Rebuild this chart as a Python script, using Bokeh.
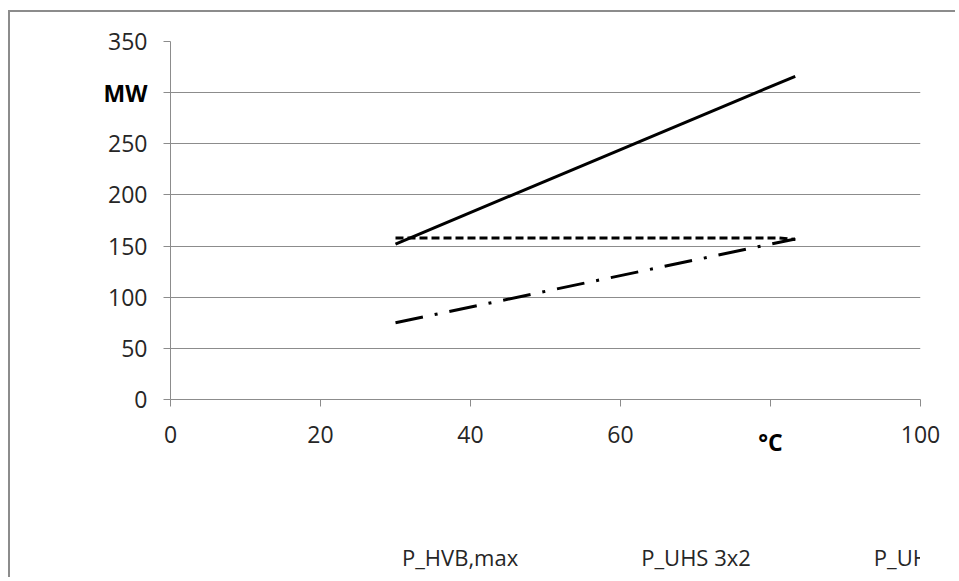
from bokeh.plotting import figure
from bokeh.layouts import column
from bokeh.models import Range1d, Legend, LegendItem, Label, FixedTicker
from bokeh.embed import file_html
from bokeh.resources import INLINE

# ---- data ----
temp_hvb = [30, 81, 83.3]
p_hvb = [158, 158, 156.5]

temp_uhs_3x2 = [30, 83.3]
p_uhs_3x2 = [152, 316]

temp_uhs_3x1 = [30, 83.3]
p_uhs_3x1 = [75, 157]

x_ticks = [0, 20, 40, 60, 80, 100]
y_ticks = [0, 50, 100, 150, 200, 250, 300, 350]
x_unit_tick = 80      # tick whose label is replaced by the unit
y_unit_tick = 300
x_unit_label = "°C"
y_unit_label = "MW"
series_names = ["P_HVB,max", "P_UHS 3x2", "P_UHS 3x1"]

FONT = "Open Sans"
GREY = "#8c8c8c"
TXT = "#262626"
DASHES = ["8 4", "solid", "28 12 3 12"]

p = figure(frame_width=750, frame_height=358, output_backend="svg", toolbar_location=None,
           x_range=Range1d(0, 100), y_range=Range1d(0, 350),
           min_border_left=160, min_border_right=35, min_border_top=29, min_border_bottom=70)

p.outline_line_color = None
p.xgrid.grid_line_color = None
p.ygrid.grid_line_color = GREY
p.ygrid.grid_line_width = 1

p.xaxis.ticker = FixedTicker(ticks=x_ticks)
p.yaxis.ticker = FixedTicker(ticks=y_ticks)
p.xaxis.major_label_overrides = {x_unit_tick: ""}
p.yaxis.major_label_overrides = {y_unit_tick: ""}
for ax in (p.xaxis, p.yaxis):
    ax.axis_line_color = GREY
    ax.major_tick_line_color = GREY
    ax.major_tick_out = 7
    ax.major_tick_in = 0
    ax.minor_tick_line_color = None
    ax.major_label_text_font = FONT
    ax.major_label_text_font_size = "23px"
    ax.major_label_text_color = TXT
p.xaxis.major_label_standoff = 19
p.yaxis.major_label_standoff = 16

p.line(temp_hvb, p_hvb, line_color="black", line_width=3, line_dash=DASHES[0])
p.line(temp_uhs_3x2, p_uhs_3x2, line_color="black", line_width=3, line_dash=DASHES[1])
p.line(temp_uhs_3x1, p_uhs_3x1, line_color="black", line_width=3, line_dash=DASHES[2])

# bold unit labels in the side panels (not clipped by the frame)
p.add_layout(Label(x=0, y=y_unit_tick, x_offset=-23, text=y_unit_label, text_font=FONT,
                   text_font_size="23px", text_font_style="bold", text_color="black",
                   text_align="right", text_baseline="middle"), "left")
p.add_layout(Label(x=x_unit_tick, y=0, y_offset=-26, text=x_unit_label, text_font=FONT,
                   text_font_size="23px", text_font_style="bold", text_color="black",
                   text_align="center", text_baseline="top"), "below")

# legend strip underneath the chart
lg = figure(width=945, height=100, output_backend="svg", toolbar_location=None,
            x_range=Range1d(0, 1), y_range=Range1d(0, 1),
            x_axis_location=None, y_axis_location=None,
            min_border_left=0, min_border_right=0, min_border_top=0, min_border_bottom=0)
lg.outline_line_color = None
lg.xgrid.grid_line_color = None
lg.ygrid.grid_line_color = None
items = []
for name, dash in zip(series_names, DASHES):
    r = lg.line(x=[], y=[], line_color="black", line_width=3, line_dash=dash)
    items.append(LegendItem(label=name, renderers=[r]))
legend = Legend(items=items, orientation="horizontal", location=(155, 5),
                padding=0, margin=0, spacing=46, glyph_width=70, glyph_height=24,
                label_standoff=7, label_text_font=FONT, label_text_font_size="22px",
                label_text_color=TXT, border_line_color=None, background_fill_alpha=0)
lg.add_layout(legend, "center")

layout = column(p, lg, spacing=0)
layout.styles = {"border-top": f"2px solid {GREY}", "border-left": f"2px solid {GREY}",
                 "margin-top": "10px", "margin-left": "8px"}

open("out.html", "w").write(file_html(layout, INLINE))
